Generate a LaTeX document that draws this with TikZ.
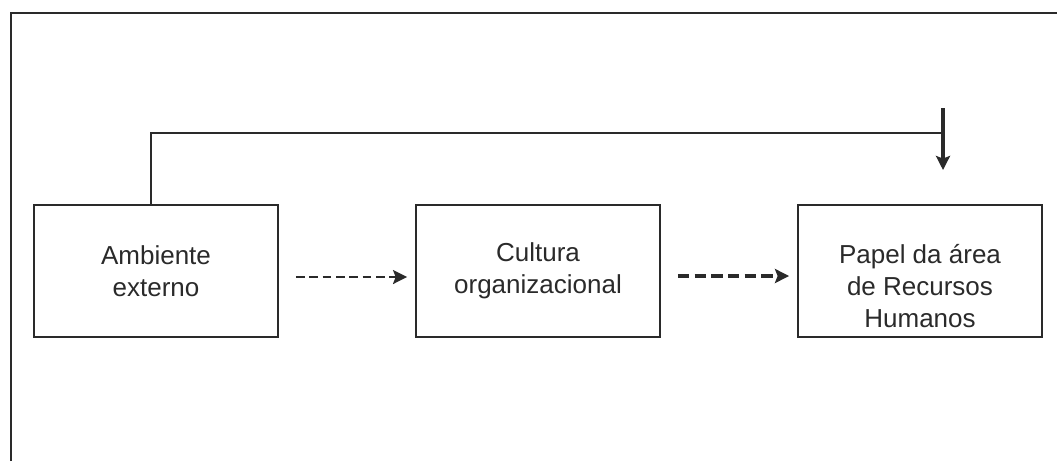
\documentclass[tikz,border=0pt]{standalone}
\usepackage{fontspec}
\setmainfont{Liberation Sans}
\usepackage{tikz}
\usetikzlibrary{arrows.meta, positioning, calc}
\definecolor{mline}{HTML}{2A2A2A}
\tikzset{
  cbox/.style={draw=mline, line width=1.1pt, minimum width=4.88cm, minimum height=2.64cm,
               align=center, inner sep=0pt, font=\fontsize{14.8}{18.4}\selectfont, text=mline},
  tline/.style={draw=mline, line width=0.9pt},
  farr/.style={-{Stealth[length=8pt, width=8pt, inset=1.5pt]}, mline, line width=1.9pt},
  dthin/.style={-{Stealth[length=8pt, width=8pt, inset=1.5pt]}, mline, line width=1.2pt,
                dash pattern=on 5pt off 2.6pt},
  dthick/.style={-{Stealth[length=8pt, width=8pt, inset=1.5pt]}, mline, line width=2.2pt,
                 dash pattern=on 6.5pt off 3pt},
}

\begin{document}
\begin{tikzpicture}[x=0.02cm, y=-0.02cm]
  \useasboundingbox (0,0) rectangle (1057,461);

  %% Outer frame
  \draw[mline, line width=1.4pt] (11,461) -- (11,13) -- (1057,13);

  %% Boxes
  \node[cbox] (amb)  at (156,271) {Ambiente\\externo};
  \node[cbox] (cult) at (538,271) {Cultura\\organizacional};
  \node[cbox] (prh)  at (920,271) {\rule{0pt}{28pt}Papel da área\\de Recursos\\Humanos};

  %% Feedback line
  \coordinate (ctop) at (943,108);
  \coordinate (ctip) at (943,170);
  \draw[tline] ([xshift=-5*0.02cm]amb.north) |- (ctop |- 0,133);
  \draw[farr] (ctop) -- (ctip);

  %% Dashed influences
  \draw[dthin]  ($(amb.east)+(17,6)$)  -- ($(cult.west)+(-8,6)$);
  \draw[dthick] ($(cult.east)+(17,5)$) -- ($(prh.west)+(-8,5)$);

\end{tikzpicture}
\end{document}
